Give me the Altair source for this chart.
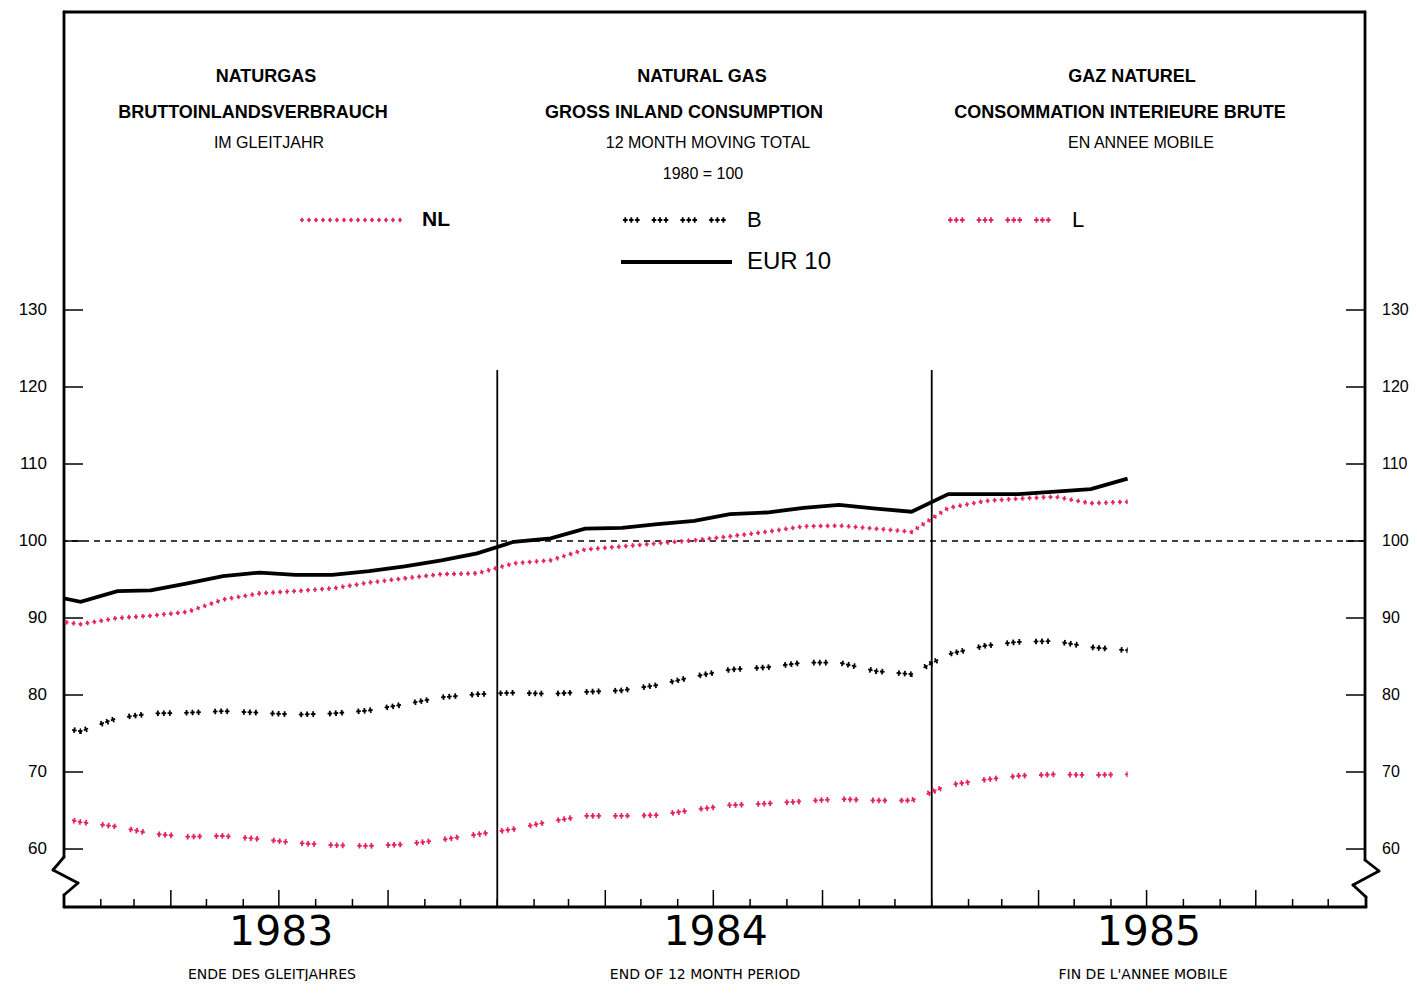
import altair as alt
import pandas as pd

# ---------------- data ----------------
# monthly points (12-month moving total, 1980 = 100), Dec 1982 .. Jun 1985
months = ["1982-12"] + [f"{yy}-{mm:02d}" for yy in (1983, 1984) for mm in range(1, 13)] + \
         [f"1985-{mm:02d}" for mm in range(1, 7)]

eur10 = [93.1, 92.1, 93.5, 93.6, 94.5, 95.45, 95.9, 95.6, 95.6, 96.1, 96.7, 97.5, 98.4,
         99.9, 100.35, 101.6, 101.7, 102.2, 102.6, 103.5, 103.7, 104.3, 104.7, 104.2, 103.8,
         106.1, 106.1, 106.1, 106.4, 106.75, 108.1]
nl = [89.8, 89.2, 90.0, 90.3, 90.8, 92.4, 93.2, 93.5, 93.85, 94.6, 95.15, 95.7, 95.8,
      97.1, 97.5, 98.9, 99.3, 99.7, 100.1, 100.6, 101.2, 101.9, 102.0, 101.6, 101.2,
      104.3, 105.2, 105.5, 105.75, 104.9, 105.1]
b = [76.1, 75.3, 77.0, 77.6, 77.7, 77.9, 77.7, 77.45, 77.6, 78.0, 78.8, 79.7, 80.1,
     80.3, 80.15, 80.4, 80.6, 81.3, 82.4, 83.3, 83.6, 84.2, 84.2, 83.1, 82.7,
     85.3, 86.4, 86.9, 87.0, 86.2, 85.8]
lux = [64.5, 63.5, 62.9, 62.0, 61.6, 61.7, 61.3, 60.8, 60.5, 60.4, 60.6, 61.2, 61.9,
       62.6, 63.6, 64.3, 64.3, 64.4, 65.1, 65.7, 65.9, 66.2, 66.5, 66.3, 66.3,
       68.3, 69.0, 69.5, 69.7, 69.6, 69.7]

y_ticks = [60, 70, 80, 90, 100, 110, 120, 130]
years = ["1983", "1984", "1985"]
reference_value = [100]

title_de = ["NATURGAS", "BRUTTOINLANDSVERBRAUCH", "IM GLEITJAHR"]
title_en = ["NATURAL GAS", "GROSS INLAND CONSUMPTION", "12 MONTH MOVING TOTAL", "1980 = 100"]
title_fr = ["GAZ NATUREL", "CONSOMMATION INTERIEURE BRUTE", "EN ANNEE MOBILE"]
legend_names = ["NL", "B", "L", "EUR 10"]
footer = ["ENDE DES GLEITJAHRES", "END OF 12 MONTH PERIOD", "FIN DE L'ANNEE MOBILE"]

# ---------------- layout / styles ----------------
W, H = 1301, 895
RED = "#e2245a"
FONT = "Liberation Sans"
dummy = pd.DataFrame({"k": [0]})

x_scale = alt.Scale(type="utc", nice=False,
                    domain=[alt.DateTime(year=1983, month=1, date=1, utc=True),
                            alt.DateTime(year=1986, month=1, date=1, utc=True)])
y_scale = alt.Scale(domain=[52.47, 168.7], zero=False, nice=False)

dates = [m + "-15" for m in months]


def sdf(vals):
    return pd.DataFrame({"date": dates, "v": vals})


def series(vals, **mk):
    return alt.Chart(sdf(vals)).mark_line(clip=True, **mk).encode(
        x=alt.X("date:T", scale=x_scale, axis=None),
        y=alt.Y("v:Q", scale=y_scale, axis=None))


# plus-marker patterns
NL_H = dict(strokeWidth=1.7, strokeDash=[4, 3])
NL_V = dict(strokeWidth=4.6, strokeDash=[1.7, 5.3], strokeDashOffset=5.85)
GR_H = dict(strokeWidth=1.8, strokeDash=[4.6, 1.4, 4.6, 1.4, 4.6, 12.1])
GR_V = dict(strokeWidth=5.6, strokeDash=[1.8, 4.2, 1.8, 4.2, 1.8, 14.9], strokeDashOffset=27.3)

layers = []

# frame with axis breaks
segs = pd.DataFrame([
    (0, 0, W, 0), (0, H, W + 1, H),
    (0, 0, 0, 845), (0, 845, -11, 858), (-11, 858, 14, 871), (14, 871, 0, 883), (0, 883, 0, H),
    (W, 0, W, 848), (W, 848, W + 14, 859), (W + 14, 859, W - 12, 873), (W - 12, 873, W + 1, 885),
    (W + 1, 885, W + 1, H),
], columns=["x1", "y1", "x2", "y2"])
layers.append(alt.Chart(segs).mark_rule(color="black", strokeWidth=2.8, strokeCap="round").encode(
    x=alt.X("x1:Q", scale=None), y=alt.Y("y1:Q", scale=None), x2="x2:Q", y2="y2:Q"))

# y ticks and labels
tdf = pd.DataFrame({"t": y_ticks})
yenc = alt.Y("t:Q", scale=y_scale, axis=None)
layers.append(alt.Chart(tdf).mark_rule(color="black", strokeWidth=1.5).encode(
    y=yenc, x=alt.value(0), x2=alt.value(19)))
layers.append(alt.Chart(tdf).mark_rule(color="black", strokeWidth=1.5).encode(
    y=yenc, x=alt.value(W - 19), x2=alt.value(W)))
layers.append(alt.Chart(tdf).mark_text(align="right", baseline="middle", fontSize=17, font=FONT,
                                       color="black").encode(
    y=yenc, x=alt.value(-17), text="t:Q"))
layers.append(alt.Chart(tdf).mark_text(align="left", baseline="middle", fontSize=16, font=FONT,
                                       color="black").encode(
    y=yenc, x=alt.value(W + 17), text="t:Q"))

# month ticks on bottom axis
mstarts = [f"{yy}-{mm:02d}-01" for yy in (1983, 1984, 1985) for mm in range(1, 13)][1:]
mdf = pd.DataFrame({"date": mstarts, "q": [int(s[5:7]) in (4, 7, 10) for s in mstarts]})
xenc = alt.X("date:T", scale=x_scale, axis=None)
layers.append(alt.Chart(mdf).transform_filter("!datum.q").mark_rule(color="black", strokeWidth=1.5).encode(
    x=xenc, y=alt.value(H), y2=alt.value(H - 8)))
layers.append(alt.Chart(mdf).transform_filter("datum.q").mark_rule(color="black", strokeWidth=1.5).encode(
    x=xenc, y=alt.value(H), y2=alt.value(H - 17)))

# year separators
sep = pd.DataFrame({"date": ["1984-01-01", "1985-01-01"], "top": [122.2, 122.2]})
layers.append(alt.Chart(sep).mark_rule(color="black", strokeWidth=1.8).encode(
    x=xenc, y=alt.Y("top:Q", scale=y_scale, axis=None), y2=alt.value(H)))

# 100 reference line
layers.append(alt.Chart(pd.DataFrame({"v": reference_value})).mark_rule(
    color="black", strokeWidth=1.5, strokeDash=[6, 5]).encode(
    y=alt.Y("v:Q", scale=y_scale, axis=None)))

# data series
layers.append(series(lux, color=RED, **GR_H))
layers.append(series(lux, color=RED, **GR_V))
layers.append(series(b, color="black", **GR_H))
layers.append(series(b, color="black", **GR_V))
layers.append(series(nl, color=RED, **NL_H))
layers.append(series(nl, color=RED, **NL_V))
layers.append(series(eur10, color="black", strokeWidth=3.8))


def txt(t, x, y, size, weight="normal", align="center", font=FONT):
    return alt.Chart(dummy).mark_text(text=t, fontSize=size, fontWeight=weight, align=align,
                                      baseline="middle", font=font, color="black").encode(
        x=alt.value(x), y=alt.value(y))


def hrule(x1, x2, y, **mk):
    return alt.Chart(dummy).mark_rule(**mk).encode(x=alt.value(x1), x2=alt.value(x2), y=alt.value(y))


# titles
for t, x, y, s, w in [
    (title_de[0], 202, 65, 18, "bold"), (title_de[1], 189, 101, 18, "bold"), (title_de[2], 205, 131, 16, "normal"),
    (title_en[0], 638, 65, 18, "bold"), (title_en[1], 620, 101, 18, "bold"), (title_en[2], 644, 131, 16, "normal"),
    (title_en[3], 639, 162, 16, "normal"),
    (title_fr[0], 1068, 65, 18, "bold"), (title_fr[1], 1056, 101, 18, "bold"), (title_fr[2], 1077, 131, 16, "normal"),
]:
    layers.append(txt(t, x, y, s, w))

# legend
layers.append(hrule(236, 340, 208, color=RED, **NL_H))
layers.append(hrule(236, 340, 208, color=RED, **NL_V))
layers.append(txt(legend_names[0], 358, 208, 21, "bold", "left"))
layers.append(hrule(559, 666, 208, color="black", **GR_H))
layers.append(hrule(559, 666, 208, color="black", **GR_V))
layers.append(txt(legend_names[1], 683, 208, 22, "normal", "left"))
layers.append(hrule(884, 990, 208, color=RED, **GR_H))
layers.append(hrule(884, 990, 208, color=RED, **GR_V))
layers.append(txt(legend_names[2], 1008, 208, 22, "normal", "left"))
layers.append(hrule(557, 668, 250, color="black", strokeWidth=3.8))
layers.append(txt(legend_names[3], 683, 250, 24, "normal", "left"))

# year labels
ydf = pd.DataFrame({"date": [f"{yy}-07-03" for yy in years], "yr": years})
layers.append(alt.Chart(ydf).mark_text(fontSize=41, fontWeight="normal", font="DejaVu Sans",
                                       baseline="middle", color="black").encode(
    x=xenc, y=alt.value(921), text="yr:N"))

# footer
for t, x in zip(footer, [208, 641, 1079]):
    layers.append(txt(t, x, 963, 14, "normal", "center", "DejaVu Sans"))

chart = alt.layer(*layers).properties(
    width=W, height=H,
    autosize=alt.AutoSizeParams(type="none"),
    padding={"left": 56, "top": 4, "right": 44, "bottom": 74},
).configure_view(strokeWidth=0)

chart.save("out.html", embed_options={"renderer": "svg", "actions": False})
